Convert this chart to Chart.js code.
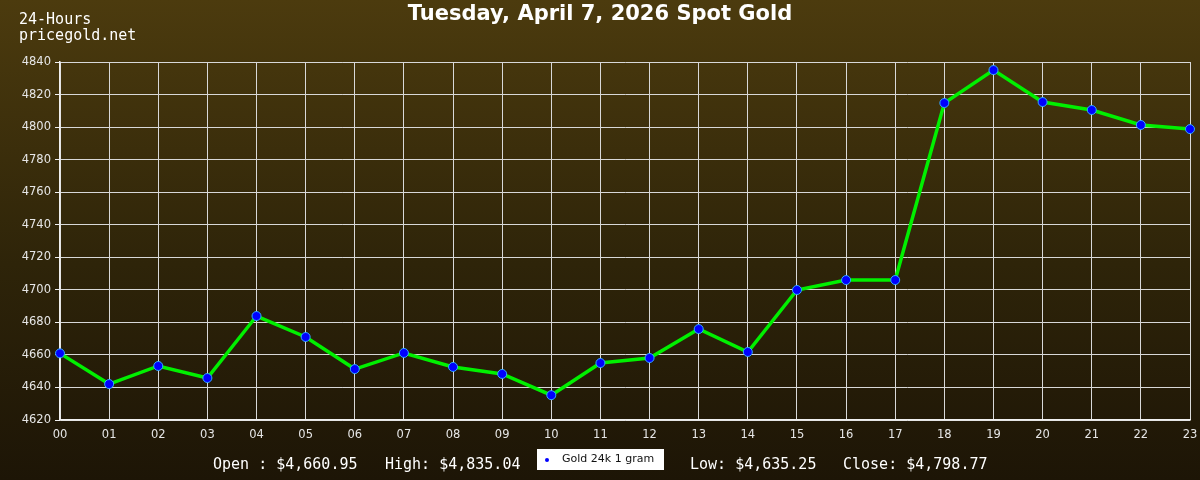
<!DOCTYPE html>
<html>
<head>
<meta charset="utf-8">
<script src="https://cdn.jsdelivr.net/npm/chart.js@4/dist/chart.umd.min.js"></script>
<style>
  body { margin: 0; }
  #wrap {
    position: relative; width: 1200px; height: 480px; overflow: hidden;
    background: linear-gradient(to bottom, #4c3b0e 0%, #2e2409 55%, #1d1506 100%);
  }
  #chart { position: absolute; left: 0; top: 0; }
  .mono { font-family: "DejaVu Sans Mono", monospace; color: #fff; font-size: 15px; position: absolute; }
  #site { left: 19px; top: 11px; line-height: 16px; }
  #title { position: absolute; left: 0; width: 1200px; top: 1px; text-align: center;
    font-family: "DejaVu Sans", sans-serif; font-weight: bold; font-size: 21px; color: #fff; }
  #stats { left: 0; width: 1200px; top: 455px; height: 20px; }
  #stats span { position: absolute; top: 0; white-space: pre; }
  #legend { position: absolute; left: 537px; top: 449px; width: 127px; height: 21px; background: #fff;
    font-family: "DejaVu Sans", sans-serif; font-size: 11px; color: #111; line-height: 21px; }
  #legend i { position: absolute; left: 8px; top: 9px; width: 4px; height: 4px; background: #0000ff; border-radius: 2px; }
  #legend b { font-weight: normal; position: absolute; left: 25px; top: -1px; }
</style>
</head>
<body>
<div id="wrap">
  <canvas id="chart" width="1200" height="480"></canvas>
  <div id="title">Tuesday, April 7, 2026 Spot Gold</div>
  <div id="site" class="mono">24-Hours<br>pricegold.net</div>
  <div id="stats" class="mono">
    <span style="left:213px">Open : $4,660.95</span>
    <span style="left:385px">High: $4,835.04</span>
    <span style="left:690px">Low: $4,635.25</span>
    <span style="left:843px">Close: $4,798.77</span>
  </div>
  <div id="legend"><i></i><b>Gold 24k 1 gram</b></div>
</div>
<script>
const hours = ['00', '01', '02', '03', '04', '05', '06', '07', '08', '09', '10', '11',
               '12', '13', '14', '15', '16', '17', '18', '19', '20', '21', '22', '23'];
const goldPrices = [4660.95, 4642.1, 4653.2, 4645.8, 4683.9, 4671.0, 4651.3, 4661.2,
                    4652.6, 4648.3, 4635.25, 4655.0, 4658.1, 4675.9, 4661.8, 4699.9,
                    4706.0, 4706.0, 4814.8, 4835.04, 4815.4, 4810.5, 4801.3, 4798.77];
const yMin = 4620;
const yMax = 4840;
const yStep = 10;

const gridColor = '#d8d8d8';
const ctx = document.getElementById('chart').getContext('2d');
new Chart(ctx, {
    type: 'line',
    data: {
        labels: hours,
        datasets: [{
            label: 'Gold 24k 1 gram',
            data: goldPrices,
            borderColor: '#00f000',
            borderWidth: 3.5,
            tension: 0,
            pointRadius: 4.5,
            pointBackgroundColor: '#0000ff',
            pointBorderColor: '#33aaff',
            pointBorderWidth: 1
        }]
    },
    options: {
        responsive: false,
        animation: false,
        layout: { padding: { left: 0, top: 62, right: 10, bottom: 40 } },
        plugins: { legend: { display: false }, tooltip: { enabled: false } },
        scales: {
            x: {
                offset: false,
                afterFit: s => { s.height = 20; s.paddingRight = 0; },
                grid: { color: gridColor, lineWidth: 1, drawTicks: false },
                border: { color: '#f0f0f0', width: 1.5 },
                ticks: { color: '#e6e6e6', padding: 8, maxRotation: 0, autoSkip: false,
                         font: { family: 'DejaVu Sans', size: 11.5 } }
            },
            y: {
                min: yMin,
                max: yMax,
                afterFit: s => { s.width = 60; },
                grid: {
                    color: c => (c.tick && c.tick.value % 20 === 0) ? gridColor : 'rgba(0,0,0,0)',
                    tickColor: '#f0f0f0',
                    tickLength: 5,
                    lineWidth: 1
                },
                border: { color: '#f0f0f0', width: 1.5 },
                ticks: {
                    stepSize: yStep,
                    color: '#e6e6e6',
                    padding: 4,
                    font: { family: 'DejaVu Sans', size: 11.5 },
                    callback: v => (v % 20 === 0 ? v : '')
                }
            }
        }
    }
});
</script>
</body>
</html>
